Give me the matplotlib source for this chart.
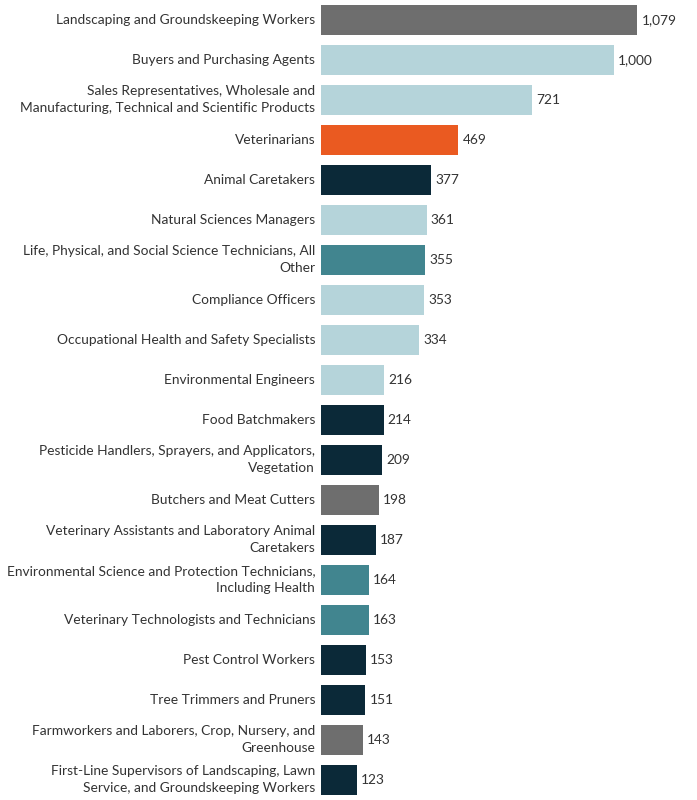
import matplotlib
matplotlib.use("Agg")
import matplotlib.pyplot as plt

plt.rcParams['font.family'] = ['Lato', 'DejaVu Sans']

occupations = [
    "Landscaping and Groundskeeping Workers",
    "Buyers and Purchasing Agents",
    "Sales Representatives, Wholesale and\nManufacturing, Technical and Scientific Products",
    "Veterinarians",
    "Animal Caretakers",
    "Natural Sciences Managers",
    "Life, Physical, and Social Science Technicians, All\nOther",
    "Compliance Officers",
    "Occupational Health and Safety Specialists",
    "Environmental Engineers",
    "Food Batchmakers",
    "Pesticide Handlers, Sprayers, and Applicators,\nVegetation",
    "Butchers and Meat Cutters",
    "Veterinary Assistants and Laboratory Animal\nCaretakers",
    "Environmental Science and Protection Technicians,\nIncluding Health",
    "Veterinary Technologists and Technicians",
    "Pest Control Workers",
    "Tree Trimmers and Pruners",
    "Farmworkers and Laborers, Crop, Nursery, and\nGreenhouse",
    "First-Line Supervisors of Landscaping, Lawn\nService, and Groundskeeping Workers",
]
values = [1079, 1000, 721, 469, 377, 361, 355, 353, 334, 216,
          214, 209, 198, 187, 164, 163, 153, 151, 143, 123]
groups = ["gray", "light", "light", "vet", "dark", "light", "teal", "light", "light", "light",
          "dark", "dark", "gray", "dark", "teal", "teal", "dark", "dark", "gray", "dark"]

palette = {"gray": "#6e6e6e", "light": "#b5d4da", "vet": "#ea5a21",
           "dark": "#0b2938", "teal": "#41858f"}

fig = plt.figure(figsize=(6.97, 8.0), dpi=100)
ax = fig.add_axes([321 / 697, 0.0, (690 - 321) / 697, 1.0])

ypos = list(range(len(values)))
ax.barh(ypos, values, height=0.73, color=[palette[g] for g in groups])
ax.set_ylim(len(values) - 0.5, -0.5)
ax.set_xlim(0, 1259)

for y, v, lab in zip(ypos, values, occupations):
    ax.text(v + 14, y, f"{v:,}", va="center", ha="left", fontsize=9.9, color="#333333")
    ax.text(-20, y, lab, va="center", ha="right", fontsize=9.9, color="#333333",
            linespacing=1.5)

ax.axis("off")
fig.savefig("out.png", dpi=100)
